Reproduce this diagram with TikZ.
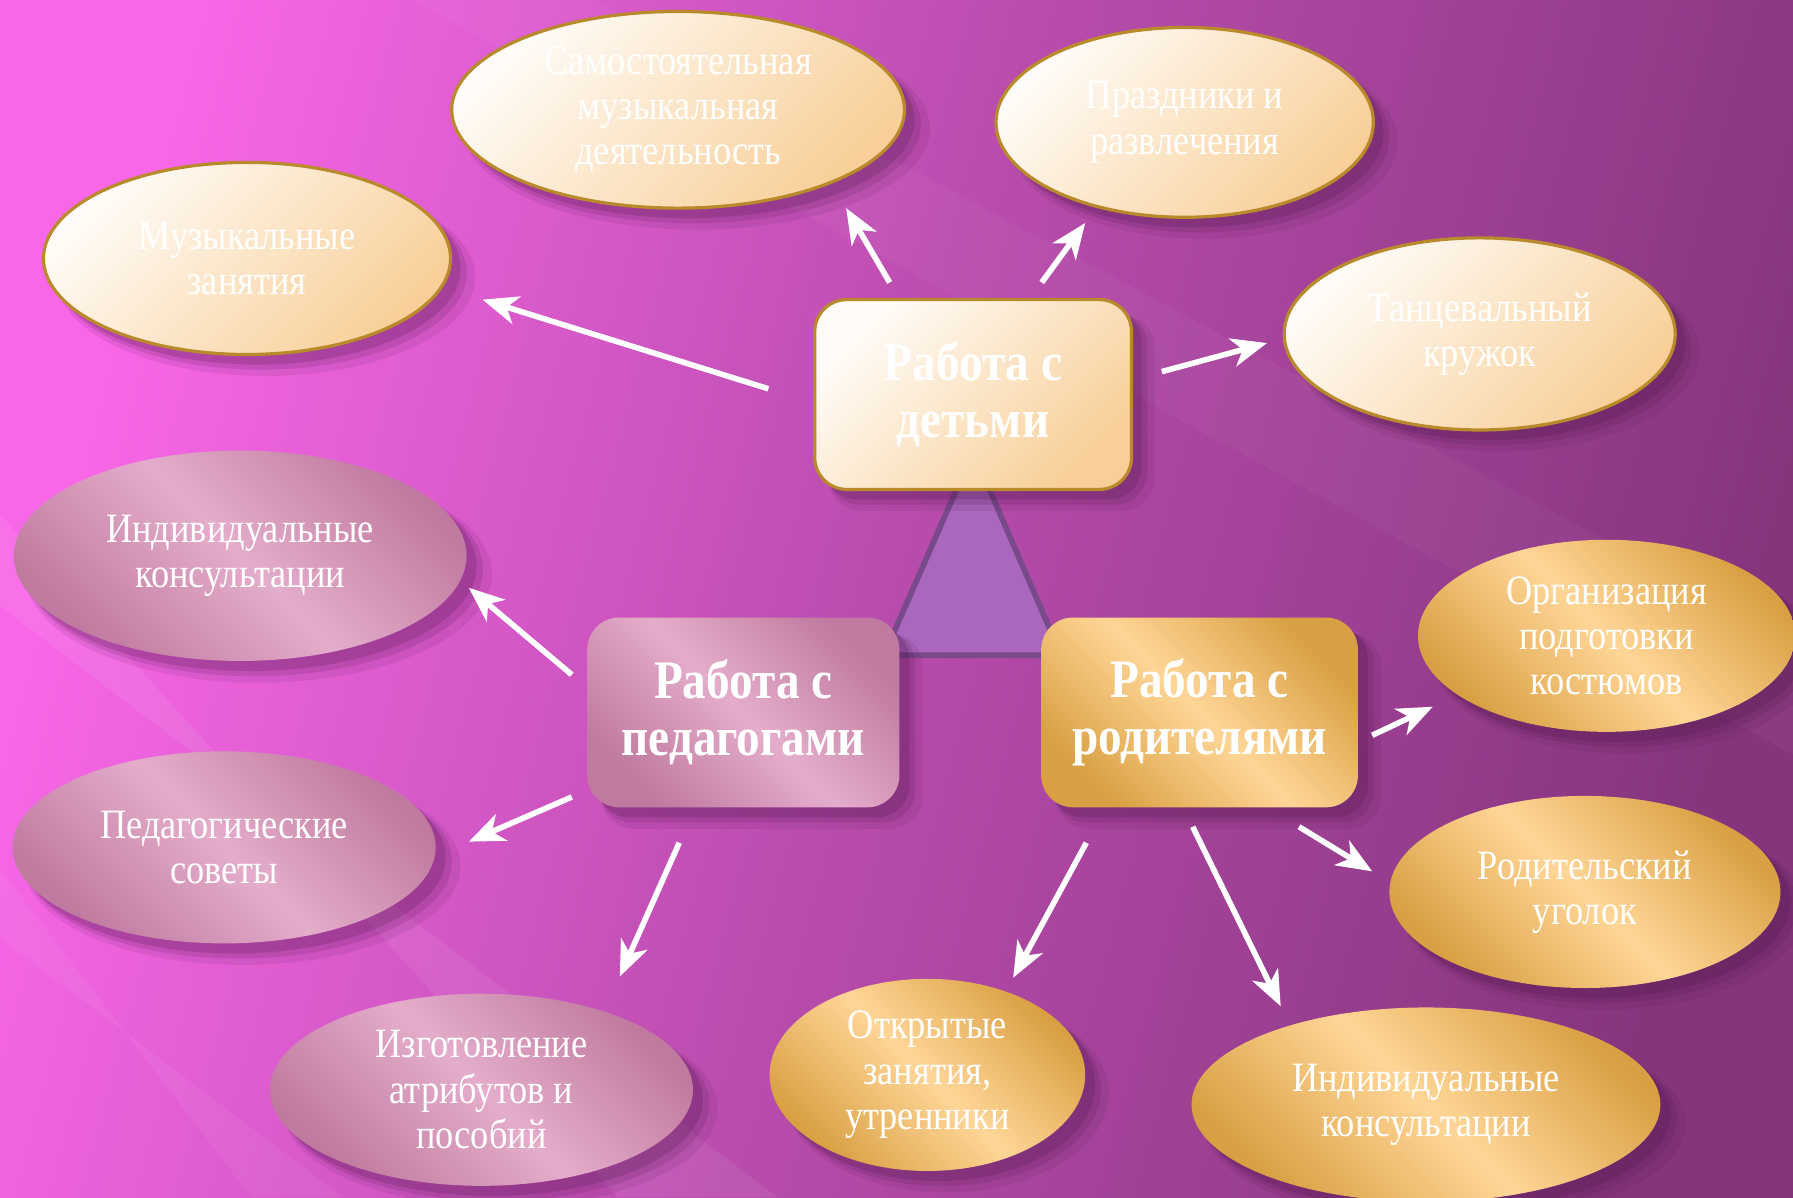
\documentclass[tikz,border=0pt]{standalone}
\usepackage{fontspec}
\setmainfont{Liberation Serif}[FakeStretch=0.87]
\usepackage{tikz}
\usetikzlibrary{arrows.meta,shapes.geometric,shadows}
\pgfdeclarelayer{bg}
\pgfsetlayers{bg,main}

\definecolor{bgpink}{HTML}{F867E8}
\definecolor{bgmid}{HTML}{B84CAC}
\definecolor{bgdark}{HTML}{86357D}
\definecolor{cream}{HTML}{FFFCF8}
\definecolor{peach}{HTML}{F8CF98}
\definecolor{gold}{HTML}{B98A2C}
\definecolor{rose}{HTML}{C07A9F}
\definecolor{roselight}{HTML}{E4ADCB}
\definecolor{amber}{HTML}{D9A043}
\definecolor{amberlight}{HTML}{FFD697}
\definecolor{trifill}{HTML}{A967BD}
\definecolor{triedge}{HTML}{784A8A}
\definecolor{shadowc}{HTML}{4A1446}

\begin{document}
\begin{tikzpicture}[
        txt/.style={text=white, align=center, font=\fontsize{10.4}{11.3}\selectfont},
        head/.style={text=white, align=center, font=\bfseries\fontsize{13.5}{14.3}\selectfont},
        shad/.style={
                drop shadow={shadow xshift=4.5pt, shadow yshift=-4.5pt, shadow scale=1.03, opacity=0.10, fill=shadowc},
                drop shadow={shadow xshift=3.5pt, shadow yshift=-3.5pt, shadow scale=1.01, opacity=0.15, fill=shadowc},
                drop shadow={shadow xshift=2.5pt, shadow yshift=-2.5pt, opacity=0.2, fill=shadowc}},
        kidsoval/.style={txt, shad, ellipse, inner sep=0pt, draw=gold, line width=0.8pt, left color=cream, right color=peach, shading angle=45},
        pedoval/.style={txt, shad, ellipse, inner sep=0pt, left color=rose, right color=rose, middle color=roselight, shading angle=135},
        paroval/.style={txt, shad, ellipse, inner sep=0pt, left color=amber, right color=amber, middle color=amberlight, shading angle=135},
        arr/.style={white, line width=1.4pt, -{Stealth[length=3.1mm, width=2.5mm, inset=0.9mm]}}
]
        \useasboundingbox (0,0) rectangle (15.68,-10.47);
        \begin{pgfonlayer}{bg}
                \shade[left color=bgpink, right color=bgdark, middle color=bgmid, shading angle=75] (0,0) rectangle (15.68,-10.47);
                \fill[white, opacity=0.07] (0,-4.5) -- (0,-5.3) -- (6.8,-10.47) -- (5.4,-10.47) -- cycle;
                \fill[white, opacity=0.035] (3.6,0) -- (5.2,0) -- (15.68,-5.6) -- (15.68,-6.6) -- cycle;
                \fill[white, opacity=0.05] (0,-7.6) -- (0,-8.2) -- (3.0,-10.47) -- (2.2,-10.47) -- cycle;
        \end{pgfonlayer}

        % triangle behind the three boxes
        \draw[triedge, fill=trifill, line width=1.4pt, line join=round] (8.51,-3.95) -- (9.28,-5.73) -- (7.73,-5.73) -- cycle;

        % centre boxes
        \node (kids) [head, shad, draw=gold, line width=0.8pt, left color=cream, right color=peach, shading angle=45, rounded corners=0.28cm, minimum width=2.77cm, minimum height=1.66cm] at (8.51cm, -3.45cm) {Работа с\\детьми};
        \node (ped) [head, shad, left color=rose, right color=rose, middle color=roselight, shading angle=135, rounded corners=0.28cm, minimum width=2.73cm, minimum height=1.66cm] at (6.50cm, -6.23cm) {Работа с\\педагогами};
        \node (par) [head, shad, left color=amber, right color=amber, middle color=amberlight, shading angle=135, rounded corners=0.28cm, minimum width=2.77cm, minimum height=1.66cm] at (10.49cm, -6.23cm) {Работа с\\родителями};

        % work with children
        \node (sam) [kidsoval, minimum width=3.96cm, minimum height=1.72cm] at (5.93cm, -0.96cm) {Самостоятельная\\музыкальная\\деятельность};
        \node (pra) [kidsoval, minimum width=3.30cm, minimum height=1.66cm] at (10.36cm, -1.07cm) {Праздники и\\развлечения};
        \node (muz) [kidsoval, minimum width=3.56cm, minimum height=1.68cm] at (2.16cm, -2.26cm) {Музыкальные\\занятия};
        \node (tan) [kidsoval, minimum width=3.42cm, minimum height=1.68cm] at (12.94cm, -2.92cm) {Танцевальный\\кружок};

        % work with teachers
        \node (pind) [pedoval, minimum width=3.96cm, minimum height=1.84cm] at (2.10cm, -4.86cm) {Индивидуальные\\консультации};
        \node (psov) [pedoval, minimum width=3.70cm, minimum height=1.68cm] at (1.96cm, -7.41cm) {Педагогические\\советы};
        \node (pizg) [pedoval, minimum width=3.70cm, minimum height=1.68cm] at (4.21cm, -9.53cm) {Изготовление\\атрибутов и\\пособий};

        % work with parents
        \node (rorg) [paroval, minimum width=3.30cm, minimum height=1.68cm] at (14.05cm, -5.56cm) {Организация\\подготовки\\костюмов};
        \node (rugol) [paroval, minimum width=3.42cm, minimum height=1.68cm] at (13.86cm, -7.80cm) {Родительский\\уголок};
        \node (rotk) [paroval, minimum width=2.76cm, minimum height=1.68cm] at (8.11cm, -9.40cm) {Открытые\\занятия,\\утренники};
        \node (rind) [paroval, minimum width=4.10cm, minimum height=1.70cm] at (12.47cm, -9.66cm) {Индивидуальные\\консультации};

        % arrow ends
        \coordinate (k1a) at (6.72cm, -3.40cm); \coordinate (k1b) at (4.22cm, -2.62cm);
        \coordinate (k2a) at (7.78cm, -2.47cm); \coordinate (k2b) at (7.40cm, -1.82cm);
        \coordinate (k3a) at (9.11cm, -2.47cm); \coordinate (k3b) at (9.49cm, -1.95cm);
        \coordinate (k4a) at (10.16cm, -3.25cm); \coordinate (k4b) at (11.08cm, -3.00cm);
        \coordinate (p1a) at (5.00cm, -5.90cm); \coordinate (p1b) at (4.10cm, -5.14cm);
        \coordinate (p2a) at (5.00cm, -6.97cm); \coordinate (p2b) at (4.10cm, -7.36cm);
        \coordinate (p3a) at (5.94cm, -7.37cm); \coordinate (p3b) at (5.42cm, -8.54cm);
        \coordinate (r1a) at (12.00cm, -6.43cm); \coordinate (r1b) at (12.53cm, -6.18cm);
        \coordinate (r2a) at (11.36cm, -7.23cm); \coordinate (r2b) at (12.00cm, -7.62cm);
        \coordinate (r3a) at (9.50cm, -7.37cm); \coordinate (r3b) at (8.86cm, -8.55cm);
        \coordinate (r4a) at (10.43cm, -7.23cm); \coordinate (r4b) at (11.20cm, -8.80cm);

        \draw (k1a) edge [arr] (k1b);
        \draw (k2a) edge [arr] (k2b);
        \draw (k3a) edge [arr] (k3b);
        \draw (k4a) edge [arr] (k4b);
        \draw (p1a) edge [arr] (p1b);
        \draw (p2a) edge [arr] (p2b);
        \draw (p3a) edge [arr] (p3b);
        \draw (r1a) edge [arr] (r1b);
        \draw (r2a) edge [arr] (r2b);
        \draw (r3a) edge [arr] (r3b);
        \draw (r4a) edge [arr] (r4b);
\end{tikzpicture}
\end{document}
